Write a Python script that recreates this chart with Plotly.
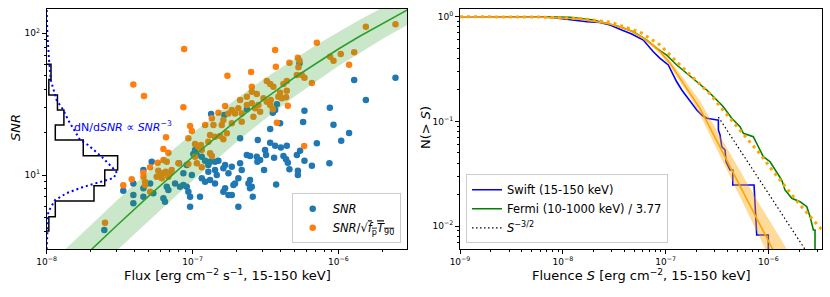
import numpy as np
import plotly.graph_objects as go

# ================= LEFT PANEL DATA =================
# log10 of flux [erg cm^-2 s^-1] and log10 of SNR
blue_log_flux = [-6.873, -6.782, -6.628, -6.267, -5.892, -5.609, -5.812, -6.059, -6.233, -6.422,
                 -6.434, -6.450, -6.400, -6.242, -6.034, -6.468, -5.927, -5.981, -6.148, -6.553,
                 -6.468, -6.434, -6.395, -6.354, -6.285, -6.263, -6.503, -6.496, -6.606, -6.560,
                 -6.537, -6.556, -6.441, -6.377, -6.359, -6.347, -6.233, -6.062, -6.182, -6.336,
                 -6.278, -6.278, -6.510, -6.606, -6.594, -6.427, -6.587, -7.280, -7.337, -7.406,
                 -7.475, -7.406, -7.406, -7.337, -7.337, -7.291, -7.269, -7.200, -7.189, -7.177,
                 -7.166, -7.093, -7.040, -6.995, -6.937, -7.120, -7.086, -7.063, -7.040, -7.029,
                 -7.017, -7.005, -7.063, -7.017, -6.949, -6.914, -6.880, -6.892, -6.846, -6.823,
                 -6.892, -6.846, -6.834, -6.846, -6.789, -6.777, -6.754, -6.731, -6.720, -6.709,
                 -6.777, -6.789, -6.754, -6.731, -6.686, -6.663, -6.674, -6.686, -6.937, -6.914,
                 -6.880, -6.628, -6.617, -6.606, -6.983, -6.971, -7.605, -6.674]
blue_log_snr = [1.430, 1.423, 1.464, 1.788, 1.670, 1.687, 1.529, 1.475, 1.454, 1.499,
                1.459, 1.440, 1.365, 1.374, 1.355, 1.325, 1.296, 1.242, 1.224, 1.247,
                1.228, 1.207, 1.195, 1.207, 1.141, 1.171, 1.176, 1.141, 1.134, 1.129,
                1.106, 1.094, 1.122, 1.134, 1.111, 1.087, 1.101, 1.083, 1.066, 1.040,
                1.030, 1.000, 1.035, 0.965, 0.917, 0.934, 0.847, 1.094, 1.035, 0.941,
                0.889, 0.859, 0.800, 0.906, 0.847, 0.941, 0.871, 0.836, 0.812, 0.917,
                0.894, 1.083, 1.071, 1.148, 1.129, 0.941, 0.917, 0.929, 0.917, 0.882,
                0.847, 1.000, 1.012, 0.776, 0.847, 1.101, 1.094, 1.071, 1.094, 1.101,
                1.023, 1.035, 1.000, 0.941, 1.047, 1.071, 1.012, 1.059, 0.929, 0.941,
                0.906, 0.882, 0.859, 0.859, 0.977, 1.035, 1.083, 0.776, 0.977, 0.953,
                0.965, 1.141, 0.941, 0.906, 1.176, 1.141, 0.612, 1.259]

orange_log_flux = [-7.058, -7.406, -7.333, -6.761, -6.599, -7.063, -6.777, -7.017, -7.005, -5.812,
                   -5.609, -6.148, -6.434, -6.278, -6.057, -6.034, -5.984, -5.892, -5.927, -6.429,
                   -6.336, -6.267, -6.274, -6.285, -6.251, -6.233, -6.182, -6.491, -6.468, -6.446,
                   -6.377, -6.354, -6.560, -6.400, -6.354, -6.412, -6.388, -6.359, -6.514, -6.491,
                   -6.468, -6.464, -6.594, -6.549, -6.571, -6.537, -6.583, -6.450, -6.347, -6.422,
                   -6.594, -6.594, -6.628, -6.674, -6.628, -6.686, -6.731, -6.709, -6.663, -6.754,
                   -6.823, -6.868, -6.789, -6.914, -6.857, -6.800, -6.731, -6.663, -7.029, -6.983,
                   -6.960, -6.942, -6.880, -6.846, -6.811, -6.765, -6.789, -6.892, -6.937, -6.880,
                   -6.868, -6.983, -6.971, -7.029, -7.200, -7.166, -7.200, -7.177, -7.235, -7.223,
                   -7.200, -7.184, -7.166, -7.154, -7.143, -7.246, -7.211, -7.337, -7.326, -7.326,
                   -7.417, -7.475, -7.291, -7.600, -6.937, -6.235, -7.291, -7.239, -7.097, -7.337,
                   -7.182]
orange_log_snr = [1.889, 1.639, 1.558, 1.700, 1.727, 1.478, 1.487, 1.346, 1.311, 2.047,
                  2.064, 1.934, 1.882, 1.828, 1.835, 1.807, 1.854, 1.866, 1.778, 1.764,
                  1.793, 1.807, 1.760, 1.706, 1.706, 1.687, 1.649, 1.663, 1.642, 1.623,
                  1.642, 1.663, 1.572, 1.581, 1.595, 1.553, 1.541, 1.548, 1.541, 1.517,
                  1.494, 1.529, 1.506, 1.494, 1.471, 1.447, 1.411, 1.464, 1.489, 1.369,
                  1.623, 1.588, 1.553, 1.529, 1.494, 1.471, 1.459, 1.435, 1.435, 1.435,
                  1.440, 1.400, 1.388, 1.353, 1.353, 1.353, 1.365, 1.376, 1.259, 1.219,
                  1.200, 1.212, 1.282, 1.270, 1.275, 1.294, 1.252, 1.235, 1.176, 1.153,
                  1.134, 1.129, 1.083, 1.078, 1.183, 1.157, 1.106, 1.094, 1.030, 1.012,
                  1.012, 1.023, 0.988, 1.012, 1.035, 0.988, 0.977, 0.988, 0.953, 0.929,
                  0.970, 0.927, 0.882, 0.663, 1.054, 1.205, 1.054, 1.087, 1.083, 1.016,
                  1.266]

# green fit curve and its band
fit_flux = [1e-8, 1.5e-8, 2e-8, 3e-8, 5e-8, 7e-8, 1e-7, 2e-7, 3e-7, 5e-7, 7e-7, 1e-6, 1.4e-6, 2e-6, 3.5e-6]
fit_snr = [1.50, 2.23, 2.95, 4.37, 7.10, 9.71, 13.4, 24.3, 33.5, 48.8, 61.5, 77.5, 95.3, 117.5, 160.7]
fit_snr_hi = [2.25, 3.35, 4.43, 6.56, 10.65, 14.47, 19.70, 34.51, 46.9, 66.37, 82.41, 102.3, 124.8, 151.6, 204.1]
fit_snr_lo = [1.00, 1.49, 1.97, 2.91, 4.73, 6.52, 9.12, 17.11, 23.93, 35.88, 45.90, 58.71, 72.75, 91.09, 126.5]

# SNR histogram (horizontal) and dN/dSNR ~ SNR^-3 model
hist_snr_edges = [4.03, 5.08, 6.56, 8.39, 10.84, 13.68, 17.66, 22.5, 28.8, 36.7, 47.3, 60.4]
hist_counts = [1, 4, 22, 27, 33, 17, 4, 8, 5, 1, 2]
model_snr = [146, 100.5, 64.9, 46.8, 33.8, 28.8, 24.4, 17.7, 16.3, 13.4, 10.8, 10.3, 9.5,
             8.93, 8.23, 7.46, 6.67, 5.48, 3.48, 3.0]
model_count = [0, 0.3, 1.1, 1.9, 4.6, 7.7, 10.0, 15.5, 19.2, 25.7, 31.8, 32.7, 30.8,
               24.8, 16.9, 9.4, 3.9, 0.7, 0, 0]

# ================= RIGHT PANEL DATA (log10 fluence, log10 N(>S)) =================
swift_log_s = [-9.000, -8.222, -8.066, -7.959, -7.765, -7.638, -7.541, -7.427, -7.330, -7.217,
               -7.120, -7.054, -6.974, -6.925, -6.892, -6.843, -6.795, -6.746, -6.697, -6.649,
               -6.600, -6.497, -6.487, -6.487, -6.471, -6.454, -6.422, -6.412, -6.374, -6.347,
               -6.347, -6.140, -6.130, -6.114, -6.001, -6.001]
swift_log_n = [0.000, 0.000, -0.012, -0.025, -0.048, -0.055, -0.079, -0.127, -0.165, -0.223,
               -0.334, -0.397, -0.461, -0.557, -0.621, -0.700, -0.764, -0.827, -0.891, -0.939,
               -0.970, -0.986, -0.986, -1.082, -1.130, -1.242, -1.273, -1.385, -1.464, -1.464,
               -1.607, -1.607, -1.782, -2.085, -2.085, -2.400]

fermi_log_s = [-8.190, -7.930, -7.703, -7.509, -7.444, -7.314, -7.184, -7.087, -6.990, -6.892,
               -6.795, -6.697, -6.600, -6.519, -6.439, -6.357, -6.276, -6.244, -6.147, -6.098,
               -6.050, -5.984, -5.936, -5.871, -5.839, -5.773, -5.693, -5.627, -5.595, -5.563,
               -5.547, -5.547]
fermi_log_n = [0.000, -0.006, -0.032, -0.079, -0.096, -0.143, -0.223, -0.302, -0.366, -0.461,
               -0.541, -0.621, -0.700, -0.779, -0.860, -0.970, -1.051, -1.114, -1.146, -1.242,
               -1.337, -1.385, -1.464, -1.560, -1.655, -1.734, -1.767, -1.815, -1.910, -2.037,
               -2.037, -2.400]

fit_log_s = [-9.000, -8.222, -7.833, -7.541, -7.346, -7.220, -7.132, -7.054, -6.957, -6.860,
             -6.763, -6.665, -6.471, -6.276, -6.082, -5.936, -5.822]
fit_log_n = [0.000, -0.003, -0.022, -0.070, -0.132, -0.203, -0.266, -0.334, -0.445, -0.585,
             -0.724, -0.877, -1.245, -1.617, -1.990, -2.267, -2.483]
fit_log_n_hi = [0.003, 0.001, -0.017, -0.063, -0.122, -0.189, -0.247, -0.309, -0.413, -0.543,
                -0.669, -0.805, -1.140, -1.472, -1.800, -2.032, -2.219]
fit_log_n_lo = [-0.003, -0.007, -0.027, -0.077, -0.142, -0.217, -0.285, -0.358, -0.475, -0.623,
                -0.772, -0.937, -1.325, -1.717, -2.115, -2.412, -2.643]

model2_log_s = [-9.000, -8.222, -7.833, -7.541, -7.249, -7.054, -6.889, -6.792, -6.695, -6.568,
                -6.442, -6.325, -6.198, -6.082, -5.965, -5.829, -5.693, -5.547, -5.479]
model2_log_n = [0.000, -0.003, -0.017, -0.051, -0.146, -0.270, -0.433, -0.528, -0.619, -0.738,
                -0.891, -1.025, -1.177, -1.311, -1.464, -1.636, -1.798, -1.961, -2.037]

euclid_s = [3.26e-7, 2.5e-6]
euclid_n = [0.110, 0.00518]

# tick labels
left_x_ticks = [1e-8, 1e-7, 1e-6]
left_x_text = ["10<sup>−8</sup>", "10<sup>−7</sup>", "10<sup>−6</sup>"]
left_y_ticks = [10, 100]
left_y_text = ["10<sup>1</sup>", "10<sup>2</sup>"]
right_x_ticks = [1e-9, 1e-8, 1e-7, 1e-6]
right_x_text = ["10<sup>−9</sup>", "10<sup>−8</sup>", "10<sup>−7</sup>", "10<sup>−6</sup>"]
right_y_ticks = [1, 0.1, 0.01]
right_y_text = ["10<sup>0</sup>", "10<sup>−1</sup>", "10<sup>−2</sup>"]

# ================= FIGURE =================
W, H = 830, 297
FONT = "DejaVu Sans"
p = lambda v: 10 ** np.asarray(v, dtype=float)


def minor_vals(e0, e1):
    return [m * 10.0 ** e for e in range(e0, e1) for m in range(2, 10)]


fig = go.Figure()

# --- left: scatter
fig.add_trace(go.Scatter(x=p(blue_log_flux), y=p(blue_log_snr), mode="markers",
                         marker=dict(color="#1f77b4", size=6.5, line=dict(width=0)),
                         name="<i>SNR</i>", xaxis="x", yaxis="y", legend="legend"))
fig.add_trace(go.Scatter(x=p(orange_log_flux), y=p(orange_log_snr), mode="markers",
                         marker=dict(color="#ff7f0e", size=6.5, line=dict(width=0)),
                         name="<i>SNR</i>/√<span style=\"text-decoration:overline\"><i>f</i><sub>p</sub><i>T</i><sub>90</sub></span>",
                         xaxis="x", yaxis="y", legend="legend"))
# band + fit line
fig.add_trace(go.Scatter(x=fit_flux, y=fit_snr_lo, mode="lines", line=dict(width=0),
                         showlegend=False, hoverinfo="skip", xaxis="x", yaxis="y"))
fig.add_trace(go.Scatter(x=fit_flux, y=fit_snr_hi, mode="lines", line=dict(width=0),
                         fill="tonexty", fillcolor="rgba(44,160,44,0.25)",
                         showlegend=False, hoverinfo="skip", xaxis="x", yaxis="y"))
fig.add_trace(go.Scatter(x=fit_flux, y=fit_snr, mode="lines", line=dict(color="#2ca02c", width=1.6),
                         showlegend=False, xaxis="x", yaxis="y"))

# histogram outline
hx, hy = [0], [hist_snr_edges[0]]
for i, c in enumerate(hist_counts):
    hx += [c, c]
    hy += [hist_snr_edges[i], hist_snr_edges[i + 1]]
hx.append(0); hy.append(hist_snr_edges[-1])
fig.add_trace(go.Scatter(x=hx, y=hy, mode="lines", line=dict(color="black", width=1.5),
                         showlegend=False, xaxis="x3", yaxis="y"))
fig.add_trace(go.Scatter(x=model_count, y=model_snr, mode="lines",
                         line=dict(color="blue", width=2, dash="2px,3px"),
                         showlegend=False, xaxis="x3", yaxis="y"))

# --- right panel
fig.add_trace(go.Scatter(x=p(swift_log_s), y=p(swift_log_n), mode="lines",
                         line=dict(color="blue", width=1.6), name="Swift (15-150 keV)",
                         xaxis="x2", yaxis="y2", legend="legend2"))
fig.add_trace(go.Scatter(x=p(fermi_log_s), y=p(fermi_log_n), mode="lines",
                         line=dict(color="green", width=1.6), name="Fermi (10-1000 keV) / 3.77",
                         xaxis="x2", yaxis="y2", legend="legend2"))
fig.add_trace(go.Scatter(x=p(fit_log_s), y=p(fit_log_n_lo), mode="lines", line=dict(width=0),
                         showlegend=False, hoverinfo="skip", xaxis="x2", yaxis="y2"))
fig.add_trace(go.Scatter(x=p(fit_log_s), y=p(fit_log_n_hi), mode="lines", line=dict(width=0),
                         fill="tonexty", fillcolor="rgba(255,165,0,0.4)",
                         showlegend=False, hoverinfo="skip", xaxis="x2", yaxis="y2"))
fig.add_trace(go.Scatter(x=p(fit_log_s), y=p(fit_log_n), mode="lines",
                         line=dict(color="orange", width=1.6),
                         showlegend=False, xaxis="x2", yaxis="y2"))
fig.add_trace(go.Scatter(x=p(model2_log_s), y=p(model2_log_n), mode="lines",
                         line=dict(color="orange", width=3, dash="3px,4px"),
                         showlegend=False, xaxis="x2", yaxis="y2"))
fig.add_trace(go.Scatter(x=euclid_s, y=euclid_n, mode="lines",
                         line=dict(color="black", width=1.2, dash="1.5px,2.5px"),
                         name="<i>S</i><sup>−3/2</sup>", xaxis="x2", yaxis="y2", legend="legend2"))


def axis_style(tv, tt, mv):
    return dict(type="log", showline=True, linecolor="black", linewidth=1, mirror=True,
                ticks="outside", ticklen=4, tickwidth=1, tickcolor="black",
                showgrid=False, zeroline=False, tickmode="array", tickvals=tv, ticktext=tt,
                tickfont=dict(size=9, color="black", family=FONT), automargin=False,
                minor=dict(tickmode="array", tickvals=mv, ticks="outside", ticklen=2,
                           tickwidth=0.8, tickcolor="black", showgrid=False))


ytop, ybot = 1 - 9 / H, 1 - 249 / H
fig.update_layout(
    width=W, height=H, margin=dict(l=0, r=0, t=0, b=0),
    paper_bgcolor="white", plot_bgcolor="white",
    font=dict(family=FONT, color="black"),
    xaxis=dict(axis_style(left_x_ticks, left_x_text, minor_vals(-8, -5)),
               domain=[46.7 / W, 407 / W], range=[-8, -5.53], anchor="y"),
    yaxis=dict(axis_style(left_y_ticks, left_y_text, minor_vals(0, 3)),
               domain=[ybot, ytop], range=[0.478, 2.1715], anchor="x"),
    xaxis3=dict(overlaying="x", anchor="y", range=[0, 167.6], visible=False, showgrid=False),
    xaxis2=dict(axis_style(right_x_ticks, right_x_text, minor_vals(-9, -5)),
                domain=[460 / W, 821.7 / W], range=[-9, -5.482], anchor="y2"),
    yaxis2=dict(axis_style(right_y_ticks, right_y_text, minor_vals(-3, 1)),
                domain=[ybot, ytop], range=[-2.219, 0.074], anchor="x2"),
    legend=dict(x=291.7 / W, y=1 - 243.3 / H, xanchor="left", yanchor="bottom",
                bgcolor="rgba(255,255,255,0.85)", bordercolor="#cccccc", borderwidth=1,
                font=dict(size=11.5, family=FONT), tracegroupgap=0, traceorder="normal"),
    legend2=dict(x=466 / W, y=1 - 243.3 / H, xanchor="left", yanchor="bottom",
                 bgcolor="rgba(255,255,255,0.85)", bordercolor="#cccccc", borderwidth=1,
                 font=dict(size=11.5, family=FONT), tracegroupgap=0, traceorder="normal"),
    showlegend=True,
    annotations=[
        dict(text="Flux [erg cm<sup>−2</sup> s<sup>−1</sup>, 15-150 keV]", x=227 / W, y=1 - 275 / H,
             xanchor="center", yanchor="middle",
             xref="paper", yref="paper", showarrow=False, font=dict(size=13)),
        dict(text="Fluence <i>S</i> [erg cm<sup>−2</sup>, 15-150 keV]", x=641 / W, y=1 - 275 / H,
             xanchor="center", yanchor="middle",
             xref="paper", yref="paper", showarrow=False, font=dict(size=13)),
        dict(text="<i>SNR</i>", x=15 / W, y=1 - 128 / H, textangle=-90,
             xanchor="center", yanchor="middle",
             xref="paper", yref="paper", showarrow=False, font=dict(size=13)),
        dict(text="N(> <i>S</i>)", x=425 / W, y=1 - 128 / H, textangle=-90,
             xanchor="center", yanchor="middle",
             xref="paper", yref="paper", showarrow=False, font=dict(size=13)),
        dict(text="dN/d<i>SNR</i> ∝ <i>SNR</i><sup>−3</sup>", x=71.7 / W, y=1 - 127 / H,
             xanchor="left", yanchor="middle",
             xref="paper", yref="paper", showarrow=False, font=dict(size=11, color="blue")),
    ],
)

fig.write_html("out.html", config={"displayModeBar": False},
               post_script="document.body.style.margin='0px';")
